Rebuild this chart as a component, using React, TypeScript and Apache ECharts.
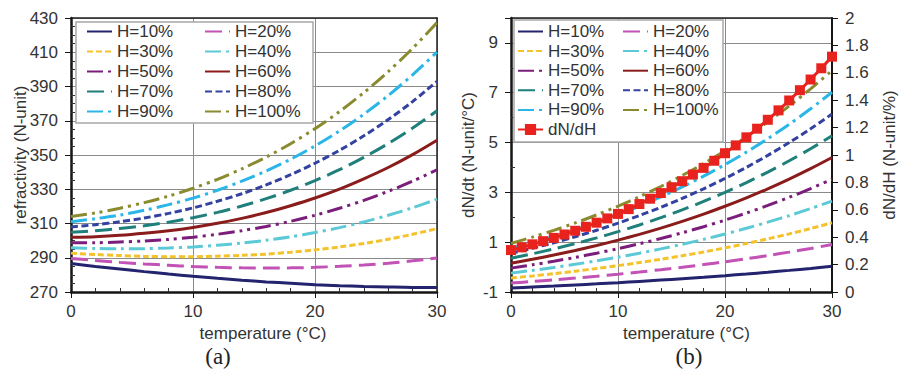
import React, { useEffect, useRef } from 'react';
import * as echarts from 'echarts';

// ---------- data ----------
const temps = [0, 2, 4, 6, 8, 10, 12, 14, 16, 18, 20, 22, 24, 26, 28, 30];
const tempsFine = [0, 1, 2, 3, 4, 5, 6, 7, 8, 9, 10, 11, 12, 13, 14, 15, 16, 17, 18, 19, 20, 21, 22, 23, 24, 25, 26, 27, 28, 29, 30];
const seriesNames = ['H=10%', 'H=20%', 'H=30%', 'H=40%', 'H=50%', 'H=60%', 'H=70%', 'H=80%', 'H=90%', 'H=100%'];
const dNdHName = 'dN/dH';

// (a) refractivity (N-unit)
const refr10 = [286.6, 284.9, 283.4, 281.9, 280.5, 279.2, 278.0, 276.9, 275.9, 275.1, 274.3, 273.7, 273.2, 272.9, 272.7, 272.7];
const refr20 = [289.6, 288.4, 287.3, 286.4, 285.6, 284.9, 284.4, 284.1, 284.0, 284.1, 284.4, 285.0, 285.8, 286.8, 288.2, 289.8];
const refr30 = [292.7, 291.9, 291.3, 290.8, 290.6, 290.6, 290.9, 291.4, 292.1, 293.2, 294.6, 296.3, 298.3, 300.8, 303.7, 307.0];
const refr40 = [295.8, 295.4, 295.2, 295.3, 295.7, 296.3, 297.3, 298.6, 300.2, 302.2, 304.7, 307.6, 310.9, 314.8, 319.2, 324.2];
const refr50 = [298.8, 298.8, 299.2, 299.8, 300.7, 302.0, 303.7, 305.8, 308.3, 311.3, 314.8, 318.9, 323.5, 328.8, 334.7, 341.4];
const refr60 = [301.9, 302.3, 303.1, 304.3, 305.8, 307.7, 310.1, 313.0, 316.4, 320.4, 324.9, 330.1, 336.1, 342.7, 350.2, 358.6];
const refr70 = [304.9, 305.8, 307.1, 308.7, 310.8, 313.4, 316.5, 320.2, 324.5, 329.4, 335.1, 341.4, 348.6, 356.7, 365.7, 375.8];
const refr80 = [308.0, 309.3, 311.0, 313.2, 315.9, 319.1, 323.0, 327.4, 332.6, 338.5, 345.2, 352.7, 361.2, 370.7, 381.2, 393.0];
const refr90 = [311.0, 312.8, 314.9, 317.7, 321.0, 324.8, 329.4, 334.7, 340.7, 347.5, 355.3, 364.0, 373.8, 384.7, 396.8, 410.1];
const refr100 = [314.1, 316.2, 318.9, 322.2, 326.0, 330.6, 335.8, 341.9, 348.8, 356.6, 365.4, 375.3, 386.4, 398.7, 412.3, 427.3];

// (b) dN/dt (N-unit/°C)
const dndt10 = [-0.839, -0.800, -0.760, -0.717, -0.672, -0.625, -0.575, -0.522, -0.466, -0.407, -0.344, -0.277, -0.207, -0.132, -0.053, 0.031];
const dndt20 = [-0.640, -0.578, -0.511, -0.441, -0.365, -0.284, -0.197, -0.104, -0.005, 0.100, 0.214, 0.334, 0.464, 0.601, 0.748, 0.904];
const dndt30 = [-0.441, -0.355, -0.263, -0.164, -0.057, 0.057, 0.181, 0.313, 0.455, 0.607, 0.771, 0.946, 1.134, 1.335, 1.549, 1.778];
const dndt40 = [-0.242, -0.133, -0.014, 0.112, 0.250, 0.398, 0.558, 0.731, 0.916, 1.114, 1.329, 1.558, 1.804, 2.068, 2.350, 2.651];
const dndt50 = [-0.042, 0.090, 0.234, 0.389, 0.558, 0.740, 0.936, 1.148, 1.376, 1.621, 1.886, 2.170, 2.475, 2.801, 3.151, 3.525];
const dndt60 = [0.157, 0.313, 0.482, 0.666, 0.865, 1.081, 1.314, 1.565, 1.836, 2.128, 2.443, 2.781, 3.145, 3.534, 3.951, 4.398];
const dndt70 = [0.356, 0.535, 0.731, 0.942, 1.173, 1.422, 1.691, 1.983, 2.297, 2.635, 3.001, 3.393, 3.815, 4.267, 4.752, 5.272];
const dndt80 = [0.555, 0.758, 0.979, 1.219, 1.480, 1.763, 2.069, 2.400, 2.757, 3.142, 3.558, 4.005, 4.485, 5.001, 5.553, 6.145];
const dndt90 = [0.754, 0.980, 1.228, 1.495, 1.788, 2.104, 2.446, 2.818, 3.218, 3.649, 4.116, 4.616, 5.156, 5.734, 6.354, 7.019];
const dndt100 = [0.953, 1.203, 1.476, 1.772, 2.095, 2.445, 2.824, 3.235, 3.678, 4.156, 4.673, 5.228, 5.826, 6.467, 7.155, 7.892];

// (b) dN/dH (N-unit/%)
const dndH = [0.306, 0.326, 0.348, 0.371, 0.395, 0.420, 0.447, 0.476, 0.506, 0.537, 0.570, 0.605, 0.642, 0.681, 0.722, 0.765, 0.809, 0.857, 0.906, 0.958, 1.013, 1.070, 1.129, 1.192, 1.257, 1.326, 1.398, 1.473, 1.551, 1.633, 1.718];

const refrSets = [refr10, refr20, refr30, refr40, refr50, refr60, refr70, refr80, refr90, refr100];
const dndtSets = [dndt10, dndt20, dndt30, dndt40, dndt50, dndt60, dndt70, dndt80, dndt90, dndt100];

// ---------- styles ----------
const lineStyles: { color: string; type: any }[] = [
  { color: '#23236e', type: 'solid' },
  { color: '#c252b5', type: [17, 7] },
  { color: '#f4c22a', type: [6, 3] },
  { color: '#5ccad6', type: [16, 5, 3, 5] },
  { color: '#7b1e7b', type: [16, 5, 3, 5, 3, 5] },
  { color: '#8b1c1c', type: 'solid' },
  { color: '#1f7f7b', type: [17, 7] },
  { color: '#3342a0', type: [7, 3.5] },
  { color: '#2bb6e8', type: [16, 5, 3, 5] },
  { color: '#8a8a2e', type: [16, 5, 3, 5, 3, 5] },
];
const RED = '#e8231e';
const FONT = '"Liberation Sans", Arial, sans-serif';
const TXT = '#333333';
const GRID = '#8a8a8a';
const AXIS = '#151515';

function bottomX(gridIndex: number, namePad: number) {
  return {
    type: 'value', gridIndex, position: 'bottom', min: 0, max: 30, interval: 10,
    axisLine: { show: true, onZero: false, lineStyle: { color: AXIS, width: 2.5 } },
    axisTick: { show: true, length: 6, lineStyle: { color: AXIS, width: 1 } },
    minorTick: { show: true, splitNumber: 5, length: -4, lineStyle: { color: '#333', width: 1 } },
    splitLine: { show: true, lineStyle: { color: GRID, width: 1 } },
    axisLabel: { fontSize: 17, color: TXT, margin: 11, fontFamily: FONT },
    name: 'temperature (°C)', nameLocation: 'middle', nameGap: 33, nameMoveOverlap: false,
    nameTextStyle: { fontSize: 17, color: TXT, fontFamily: FONT, padding: [0, 0, 0, namePad] },
  };
}
function frameX(gridIndex: number) {
  return {
    type: 'value', gridIndex, position: 'top', min: 0, max: 30,
    axisLine: { show: true, onZero: false, lineStyle: { color: '#222', width: 1.5 } },
    axisTick: { show: false }, axisLabel: { show: false }, splitLine: { show: false },
  };
}

function buildOption() {
  const series: any[] = [];
  seriesNames.forEach((name, i) => {
    const st = lineStyles[i];
    series.push({
      name, type: 'line', xAxisIndex: 0, yAxisIndex: 0, symbol: 'none', smooth: 0.3,
      data: temps.map((t, k) => [t, refrSets[i][k]]),
      lineStyle: { color: st.color, width: 3, type: st.type, cap: 'butt' },
      itemStyle: { color: st.color }, z: 2,
    });
  });
  seriesNames.forEach((name, i) => {
    const st = lineStyles[i];
    series.push({
      name, type: 'line', xAxisIndex: 2, yAxisIndex: 2, symbol: 'none', smooth: 0.3,
      data: temps.map((t, k) => [t, dndtSets[i][k]]),
      lineStyle: { color: st.color, width: 3, type: st.type, cap: 'butt' },
      itemStyle: { color: st.color }, z: 2,
    });
  });
  series.push({
    name: dNdHName, type: 'line', xAxisIndex: 2, yAxisIndex: 3,
    symbol: 'rect', symbolSize: 10, showSymbol: true, showAllSymbol: true,
    data: tempsFine.map((t, k) => [t, dndH[k]]),
    lineStyle: { color: RED, width: 3 }, itemStyle: { color: RED }, z: 4,
  });

  const legendText = { fontSize: 17, color: TXT, fontFamily: FONT, lineHeight: 17 };
  const legendBase = {
    orient: 'vertical', padding: 0, itemGap: 3, itemWidth: 25, itemHeight: 14,
    selectedMode: false, textStyle: legendText, z: 6,
    itemStyle: { opacity: 0 },
  };
  const col1 = seriesNames.filter((_, i) => i % 2 === 0);
  const col2 = seriesNames.filter((_, i) => i % 2 === 1);

  const yName = { fontSize: 17, color: TXT, fontFamily: FONT };

  return {
    animation: false,
    backgroundColor: '#ffffff',
    grid: [
      { left: 71, top: 18, width: 366, height: 274 },
      { left: 511, top: 18, width: 323, height: 274 },
    ],
    xAxis: [bottomX(0, 18), frameX(0), bottomX(1, 30), frameX(1)],
    yAxis: [
      {
        type: 'value', gridIndex: 0, position: 'left', min: 270, max: 430, interval: 20,
        axisLine: { show: true, onZero: false, lineStyle: { color: AXIS, width: 2.5 } },
        axisTick: { show: true, length: 6, lineStyle: { color: AXIS, width: 1 } },
        minorTick: { show: true, splitNumber: 4, length: -4, lineStyle: { color: '#333', width: 1 } },
        splitLine: { show: true, lineStyle: { color: GRID, width: 1 } },
        axisLabel: { fontSize: 17, color: TXT, margin: 13, fontFamily: FONT },
        name: 'refractivity (N-unit)', nameLocation: 'middle', nameGap: 42, nameMoveOverlap: false,
        nameTextStyle: yName,
      },
      {
        type: 'value', gridIndex: 0, position: 'right', min: 0, max: 1,
        axisLine: { show: true, onZero: false, lineStyle: { color: '#222', width: 1.5 } },
        axisTick: { show: false }, axisLabel: { show: false }, splitLine: { show: false },
      },
      {
        type: 'value', gridIndex: 1, position: 'left', min: -1, max: 10, interval: 2,
        axisLine: { show: true, onZero: false, lineStyle: { color: AXIS, width: 2.5 } },
        axisTick: { show: true, length: 6, lineStyle: { color: AXIS, width: 1 } },
        minorTick: { show: true, splitNumber: 2, length: -4, lineStyle: { color: '#333', width: 1 } },
        splitLine: { show: true, lineStyle: { color: GRID, width: 1 } },
        axisLabel: { fontSize: 17, color: TXT, margin: 13, fontFamily: FONT, showMaxLabel: false },
        name: 'dN/dt (N-unit/°C)', nameLocation: 'middle', nameGap: 34, nameMoveOverlap: false,
        nameTextStyle: yName,
      },
      {
        type: 'value', gridIndex: 1, position: 'right', min: 0, max: 2, interval: 0.2,
        axisLine: { show: true, onZero: false, lineStyle: { color: AXIS, width: 2 } },
        axisTick: { show: true, length: 6, lineStyle: { color: AXIS, width: 1 } },
        splitLine: { show: false },
        axisLabel: { fontSize: 17, color: TXT, margin: 13, fontFamily: FONT },
        name: 'dN/dH (N-unit/%)', nameLocation: 'middle', nameGap: 49, nameMoveOverlap: false,
        nameTextStyle: yName,
      },
    ],
    legend: [
      { ...legendBase, left: 86, top: 23, data: col1 },
      { ...legendBase, left: 204, top: 23, data: col2 },
      { ...legendBase, left: 517, top: 23, itemGap: 2.6, data: [...col1, { name: dNdHName, itemStyle: { opacity: 1 } }] },
      { ...legendBase, left: 622, top: 23, itemGap: 2.6, data: col2 },
    ],
    graphic: [
      { type: 'rect', z: 3, shape: { x: 76, y: 22, width: 237, height: 101 }, style: { fill: '#fff', stroke: '#a8a8a8', lineWidth: 1.5 } },
      { type: 'rect', z: 3, shape: { x: 514, y: 20, width: 209, height: 122 }, style: { fill: '#fff', stroke: '#a8a8a8', lineWidth: 1.5 } },
      { type: 'text', z: 3, x: 218, y: 356, style: { text: '(a)', fontSize: 23, fontFamily: '"Liberation Serif", "DejaVu Serif", serif', fill: '#222', align: 'center', verticalAlign: 'middle' } },
      { type: 'text', z: 3, x: 689, y: 356, style: { text: '(b)', fontSize: 23, fontFamily: '"Liberation Serif", "DejaVu Serif", serif', fill: '#222', align: 'center', verticalAlign: 'middle' } },
    ],
    series,
  };
}

export default function App() {
  const ref = useRef<HTMLDivElement>(null);
  useEffect(() => {
    if (!ref.current) return;
    const chart = echarts.init(ref.current, null, { renderer: 'svg' });
    chart.setOption(buildOption() as any);
    return () => chart.dispose();
  }, []);
  return (
    <div
      ref={ref}
      style={{ position: 'fixed', left: 0, top: 0, width: 899, height: 377, background: '#fff' }}
    />
  );
}
